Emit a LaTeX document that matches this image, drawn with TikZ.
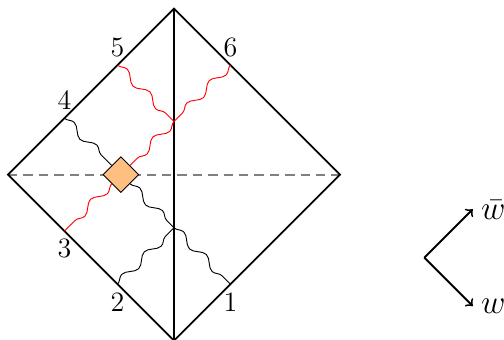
\documentclass[tikz,border=0pt]{standalone}
\usetikzlibrary{shapes.geometric,decorations.pathmorphing}

\begin{document}
\begin{tikzpicture}[scale=1,
  wave/.style={decorate,decoration={snake,segment length=4.8mm,amplitude=0.6mm}},
  vtx/.style={diamond,draw,fill=orange!50,minimum size=5.4mm,inner sep=0pt}]
\useasboundingbox (-2.62,-2.49) rectangle (4.97,2.63);
\coordinate (L) at (-2.5,0); \coordinate (T) at (0,2.5); \coordinate (R) at (2.5,0); \coordinate (B) at (0,-2.5);
\coordinate (p1) at (0.85,-1.65); \coordinate (p2) at (-0.85,-1.65); \coordinate (p3) at (-1.65,-0.85);
\coordinate (p4) at (-1.65,0.85); \coordinate (p5) at (-0.85,1.65); \coordinate (p6) at (0.85,1.65);
\coordinate (up) at (0,0.8); \coordinate (dn) at (0,-0.8);
\draw[dashed,gray,thick,dash pattern=on 4pt off 2.6pt] (L)--(R);
\draw[thick] (L)--(T)--(R)--(B)--cycle;
\draw[thick] (T)--(B);
\node[vtx] (V) at (-0.8,0) {};
% wiggly lines
\draw[wave] (p4)--(V);
\draw[wave] (V)--(dn);
\draw[wave] (dn)--(p1);
\draw[wave] (p2)--(dn);
\draw[wave,red] (p5)--(up);
\draw[wave,red] (p6)--(up);
\draw[wave,red] (up)--(V);
\draw[wave,red] (V)--(p3);
\node[below] (n1) at (p1) {\large 1};
\node[below] (n2) at (p2) {\large 2};
\node[below] (n3) at (p3) {\large 3};
\node[above] (n4) at (p4) {\large 4};
\node[above] (n5) at (p5) {\large 5};
\node[above] (n6) at (p6) {\large 6};
% momenta
\coordinate (O) at (3.77,-1.25);
\coordinate (a) at (4.5,-0.52); \coordinate (b) at (4.5,-1.98);
\node[right,inner sep=0pt] (wb) at (4.62,-0.53) {\Large $\bar{w}$};
\node[right,inner sep=0pt] (w) at (4.62,-1.98) {\Large $w$};
\draw[thick,->] (O)--(a);
\draw[thick,->] (O)--(b);
\end{tikzpicture}
\end{document}
